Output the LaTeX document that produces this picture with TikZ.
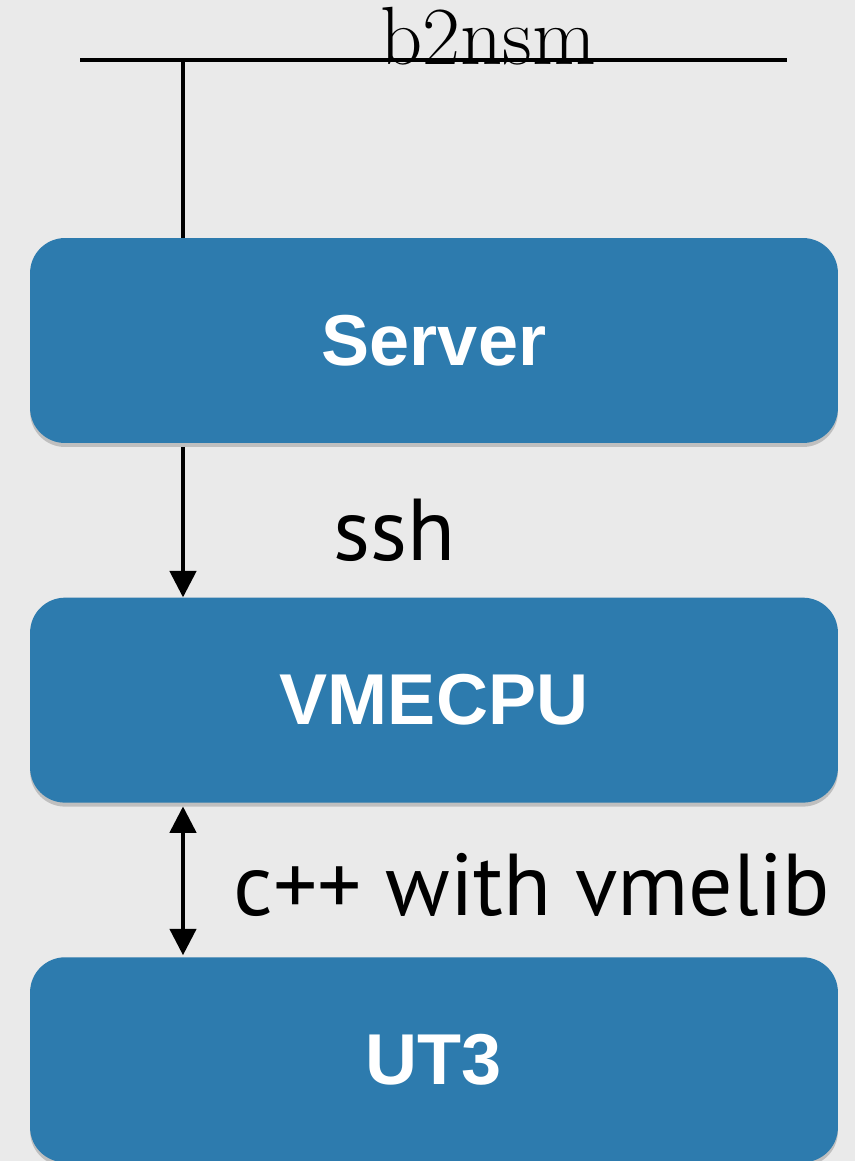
\documentclass[tikz,border=0pt]{standalone}
\usepackage{fontspec}
\newfontfamily\boxfont{Liberation Sans}
\newfontfamily\labelfont{PT Sans}
\usetikzlibrary{arrows.meta,positioning,shadows}

\definecolor{slidebg}{HTML}{EAEAEA}
\definecolor{boxblue}{HTML}{2D7BAE}

\begin{document}
\begin{tikzpicture}[x=0.02cm,y=-0.02cm,>={Triangle[width=15pt,length=15pt]},
node distance=3.08cm]
\tikzset{layer/.style={fill=boxblue,rounded corners=0.7cm,minimum width=16.16cm,
  minimum height=4.1cm,text=white,font=\boxfont\bfseries\fontsize{41}{49}\selectfont,
  drop shadow={shadow xshift=0pt,shadow yshift=-0.08cm,opacity=0.4}},
  link/.style={line width=2pt},
  tag/.style={font=\labelfont\fontsize{50}{60}\selectfont}}

\fill[slidebg] (0,0) rectangle (855,1161);
\useasboundingbox (0,0) rectangle (855,1161);

% bus line on top
\coordinate (busL) at (80,60);
\coordinate (busR) at (787,60);
\coordinate (tap) at (183,60);
\draw[line width=2.5pt] (busL) -- (busR);
\node[anchor=base,inner sep=0pt,font=\fontsize{47}{56}\selectfont] (bus) at (488,64) {b2nsm};

\node[layer] (server) at (434,340.5) {Server};
\node[layer] (vmecpu) [below=of server] {VMECPU};
\node[layer] (ut3) [below=of vmecpu] {UT3};

\draw[link] (tap) -- (tap |- server.north);
\draw[link,->,shorten <=2pt] (server.south -| tap) -- (vmecpu.north -| tap);
\draw[link,<->,shorten <=2pt,shorten >=1pt] (vmecpu.south -| tap) -- (ut3.north -| tap);

\node[tag] (ssh) at (395,530) {ssh};
\node[tag] (vmelib) at (532,885) {c++ with vmelib};
\end{tikzpicture}
\end{document}
